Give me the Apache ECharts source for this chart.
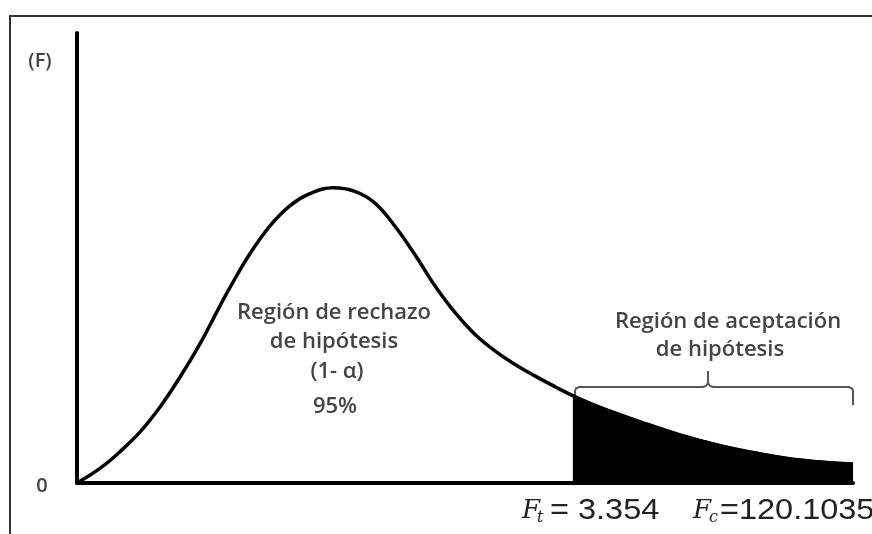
<!DOCTYPE html>
<html>
<head>
<meta charset="utf-8">
<script src="https://cdn.jsdelivr.net/npm/echarts@6/dist/echarts.min.js"></script>
<style>
html,body{margin:0;padding:0;background:#fff;}
#chart{width:872px;height:534px;}
</style>
</head>
<body>
<div id="chart"></div>
<script>
// Density curve (arbitrary units: x 0..100, y 0..100)
const curveX = [0, 3.0, 5.5, 8.1, 10.7, 13.3, 15.9, 17.8, 19.7, 22.3, 24.9, 27.5, 30.0, 33.0, 35.8, 38.4, 41.0, 43.6, 46.1, 48.7, 51.3, 53.9, 56.4, 59.0, 61.6, 63.9, 67.4, 72.6, 77.7, 82.9, 88.0, 93.2, 100];
const curveY = [0, 3.3, 6.9, 11.3, 16.9, 23.6, 31.1, 37.3, 43.4, 51.0, 57.2, 61.7, 64.3, 65.6, 64.8, 62.2, 57.0, 50.6, 43.9, 37.9, 33.0, 29.3, 26.4, 23.8, 21.4, 19.4, 16.8, 13.6, 10.7, 8.3, 6.5, 5.1, 4.2];
const ftX = 63.9;          // position of F_t on the axis
const xMax = 100;
const ftLabel = '= 3.354';
const fcLabel = '=120.1035';
const rejectLines = ['Región de rechazo', 'de hipótesis', '(1- α)', '95%'];
const acceptLines = ['Región de aceptación', 'de hipótesis'];

const curve = curveX.map((x, i) => [x, curveY[i]]);
const tail = curve.filter(p => p[0] >= ftX);

const chart = echarts.init(document.getElementById('chart'));
const txtColor = '#444';
const font = '"Open Sans", "Noto Sans", sans-serif';

chart.setOption({
  animation: false,
  backgroundColor: '#fff',
  grid: { left: 77, right: 19, top: 33, bottom: 51 },
  xAxis: {
    type: 'value', min: 0, max: xMax,
    axisLine: { show: true, onZero: false, lineStyle: { color: '#000', width: 4 } },
    axisTick: { show: false }, axisLabel: { show: false }, splitLine: { show: false }
  },
  yAxis: {
    type: 'value', min: 0, max: 100,
    axisLine: { show: true, lineStyle: { color: '#000', width: 4 } },
    axisTick: { show: false }, axisLabel: { show: false }, splitLine: { show: false }
  },
  series: [
    {
      type: 'line', data: tail, smooth: 0.4, symbol: 'none',
      lineStyle: { color: '#000', width: 3 },
      areaStyle: { color: '#000', opacity: 1 }
    },
    {
      type: 'line', data: curve, smooth: 0.4, symbol: 'none',
      lineStyle: { color: '#000', width: 3.5 }
    }
  ]
});

const xl = Math.round(chart.convertToPixel({ gridIndex: 0 }, [ftX, 0])[0]) + 2;
const xr = Math.round(chart.convertToPixel({ gridIndex: 0 }, [xMax, 0])[0]);
const xm = Math.round((xl + xr) / 2) - 6;
const by = 387;
const braceL = [[xl, 403], [xl, 391], [xl + 1, 388.5], [xl + 4, by], [xm - 5, by], [xm - 2, by - 1], [xm, by - 4], [xm, 371]];
const braceR = [[xm, by - 4], [xm + 2, by - 1], [xm + 5, by], [xr - 4, by], [xr - 1, by + 1.5], [xr, by + 4], [xr, 405]];

function centered(text, x, y, size) {
  return { type: 'text', x: x, y: y, style: { text: text, fill: txtColor, font: `600 ${size}px ${font}`, textAlign: 'center', textVerticalAlign: 'middle' } };
}

const g = [
  { type: 'polyline', shape: { points: [[10, 534], [10, 16], [872, 16]] }, style: { stroke: '#333', lineWidth: 2, fill: null } },
  { type: 'polyline', shape: { points: braceL }, style: { stroke: '#555', lineWidth: 2, fill: null } },
  { type: 'polyline', shape: { points: braceR }, style: { stroke: '#555', lineWidth: 2, fill: null } },
  centered('(F)', 40, 61, 20),
  centered('0', 42, 486, 20),
  centered(rejectLines[0], 334, 313, 22),
  centered(rejectLines[1], 334, 342, 22),
  centered(rejectLines[2], 337, 372, 22),
  centered(rejectLines[3], 335, 407, 22),
  centered(acceptLines[0], 728, 322, 22),
  centered(acceptLines[1], 720, 350, 22),
  // F_t
  { type: 'text', x: 522, y: 511, style: { text: 'F', fill: '#222', font: 'italic 26px "DejaVu Serif", serif', textVerticalAlign: 'middle' } },
  { type: 'text', x: 537, y: 518, style: { text: 't', fill: '#222', font: 'italic 16px "DejaVu Serif", serif', textVerticalAlign: 'middle' } },
  { type: 'text', x: 550, y: 511, scaleX: 1.12, originX: 0, style: { text: ftLabel, fill: '#222', font: '29px "Liberation Sans", Arial, sans-serif', textVerticalAlign: 'middle' } },
  // F_c
  { type: 'text', x: 693, y: 511, style: { text: 'F', fill: '#222', font: 'italic 26px "DejaVu Serif", serif', textVerticalAlign: 'middle' } },
  { type: 'text', x: 709, y: 518, style: { text: 'c', fill: '#222', font: 'italic 16px "DejaVu Serif", serif', textVerticalAlign: 'middle' } },
  { type: 'text', x: 720, y: 511, scaleX: 1.12, originX: 0, style: { text: fcLabel, fill: '#222', font: '29px "Liberation Sans", Arial, sans-serif', textVerticalAlign: 'middle' } }
];
chart.setOption({ graphic: { elements: g } });
</script>
</body>
</html>
